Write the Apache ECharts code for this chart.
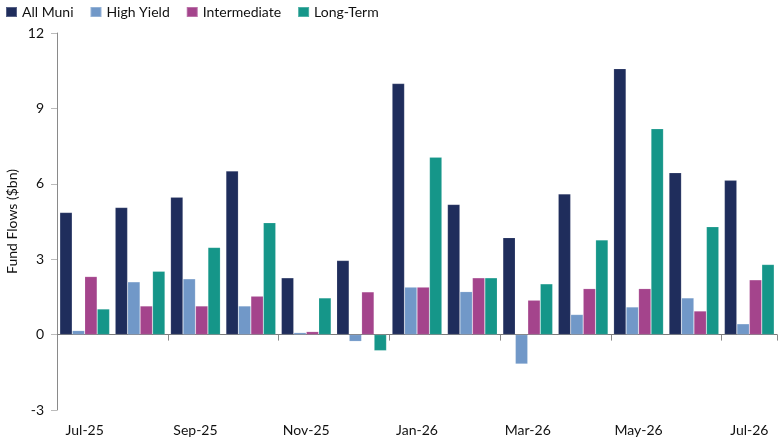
<!DOCTYPE html>
<html><head><meta charset="utf-8">
<script src="https://cdn.jsdelivr.net/npm/echarts@6/dist/echarts.min.js"></script>
<style>html,body{margin:0;padding:0;background:#fff}#c{width:780px;height:440px}</style>
</head><body><div id="c"></div>
<script>
const categories = ['Jul-25','Aug-25','Sep-25','Oct-25','Nov-25','Dec-25','Jan-26','Feb-26','Mar-26','Apr-26','May-26','Jun-26','Jul-26'];
const allMuni      = [4.86, 5.06, 5.47, 6.51, 2.26, 2.95, 9.99, 5.18, 3.86, 5.60, 10.58, 6.44, 6.14];
const highYield    = [0.16, 2.10, 2.22, 1.14, 0.08, -0.27, 1.89, 1.71, -1.17, 0.80, 1.10, 1.46, 0.43];
const intermediate = [2.31, 1.14, 1.14, 1.53, 0.12, 1.70, 1.89, 2.26, 1.37, 1.83, 1.83, 0.94, 2.18];
const longTerm     = [1.02, 2.52, 3.47, 4.45, 1.46, -0.64, 7.06, 2.26, 2.02, 3.77, 8.19, 4.29, 2.79];
const yTicks = {min: -3, max: 12, interval: 3};

const FONT = 'Lato';
const chart = echarts.init(document.getElementById('c'), null, {renderer: 'canvas'});
const mk = (name, data, color) => ({
  name, type: 'bar', data, xAxisIndex: 0,
  barGap: '0%', barCategoryGap: '10%',
  itemStyle: {color, borderColor: 'rgba(255,255,255,0.25)', borderWidth: 0.6},
  emphasis: {disabled: true}
});
chart.setOption({
  animation: false,
  textStyle: {fontFamily: FONT},
  legend: {
    left: 0, top: 2, padding: [3, 5], itemWidth: 11, itemHeight: 10, itemGap: 16,
    icon: 'rect',
    textStyle: {fontFamily: FONT, fontSize: 14, color: '#111'},
    data: ['All Muni','High Yield','Intermediate','Long-Term']
  },
  grid: {left: 57, right: 3, top: 33, bottom: 30, containLabel: false, outerBoundsMode: 'none'},
  xAxis: [{
    type: 'category', data: categories, position: 'bottom',
    axisLine: {onZero: false, show: false},
    axisTick: {show: false},
    axisLabel: {interval: 1, margin: 13, fontFamily: FONT, fontSize: 14, color: '#111'}
  }, {
    type: 'category', data: categories, position: 'bottom',
    axisLine: {onZero: true, show: true, lineStyle: {color: '#7a7a7a', width: 1}},
    axisTick: {show: true, interval: 1, length: 6, lineStyle: {color: '#8a8a8a'}},
    axisLabel: {show: false}
  }],
  yAxis: {
    type: 'value', min: yTicks.min, max: yTicks.max, interval: yTicks.interval,
    name: 'Fund Flows ($bn)', nameLocation: 'middle', nameGap: 38, nameRotate: 90,
    nameMoveOverlap: false,
    nameTextStyle: {fontFamily: FONT, fontSize: 14, color: '#111'},
    axisLine: {show: true, lineStyle: {color: '#8a8a8a'}},
    axisTick: {show: true, length: 6, lineStyle: {color: '#bbbbbb'}},
    splitLine: {show: false},
    axisLabel: {fontFamily: FONT, fontSize: 14, color: '#111', margin: 13}
  },
  series: [
    mk('All Muni', allMuni, '#1f2d5c'),
    mk('High Yield', highYield, '#7198c8'),
    mk('Intermediate', intermediate, '#a4448c'),
    mk('Long-Term', longTerm, '#159689')
  ]
});
</script></body></html>
